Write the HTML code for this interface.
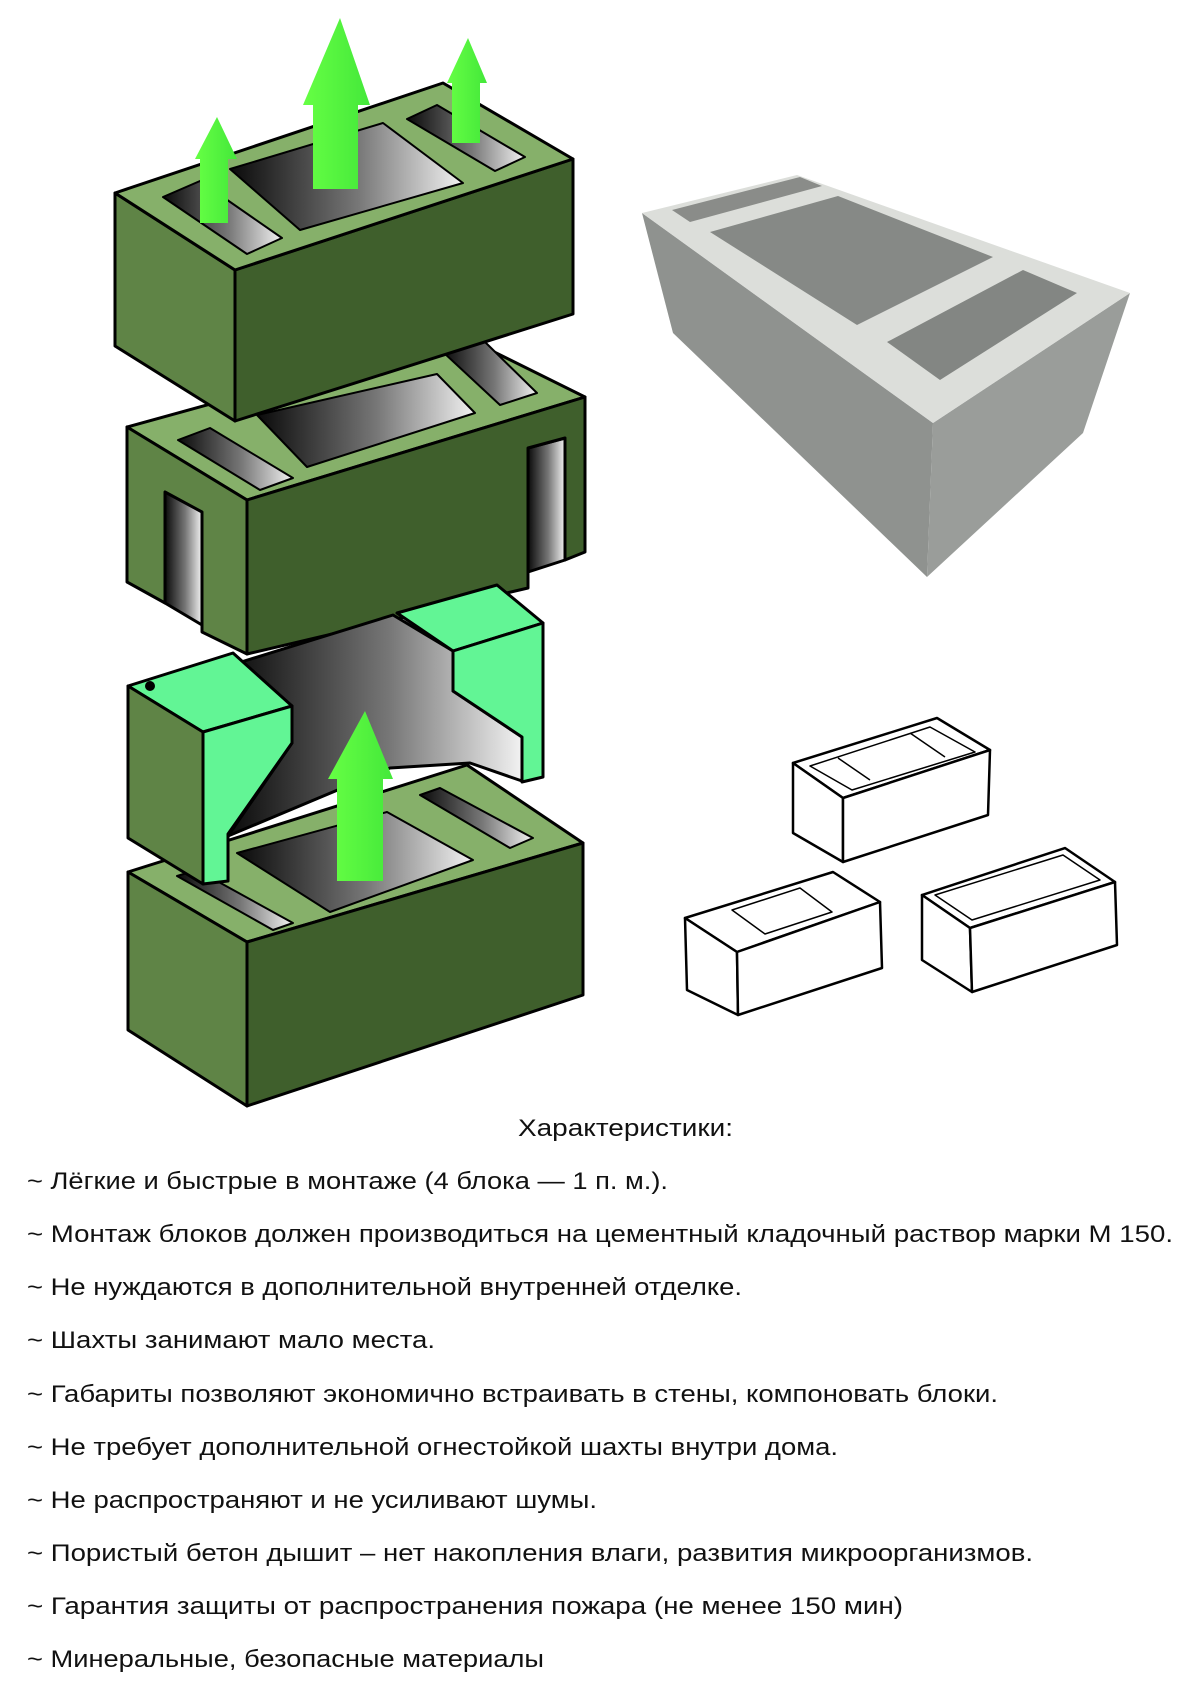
<!DOCTYPE html>
<html><head><meta charset="utf-8"><style>
html,body{margin:0;padding:0;background:#fff}
svg{display:block}
text{font-family:"Liberation Sans","Noto Sans CJK SC",sans-serif;fill:#111}
</style></head><body>
<svg width="1200" height="1697" viewBox="0 0 1200 1697" xmlns="http://www.w3.org/2000/svg">
<defs>
<linearGradient id="hole" x1="0" y1="0" x2="1" y2="0"><stop offset="0" stop-color="#0a0a0a"/><stop offset="0.55" stop-color="#777"/><stop offset="1" stop-color="#f2f2f2"/></linearGradient>
<linearGradient id="arr" x1="0" y1="0" x2="1" y2="0"><stop offset="0" stop-color="#66ff44"/><stop offset="1" stop-color="#44e83a"/></linearGradient>
</defs>
<g stroke="#000" stroke-width="3" stroke-linejoin="round">
<!-- block 2 (behind) -->
<polygon points="127,427 460,335 585,397 247,500" fill="#86b06a"/>
<polygon points="257,415 437,374 475,413 307,467" fill="url(#hole)" stroke-width="2"/>
<polygon points="178,440 210,428 293,478 260,490" fill="url(#hole)" stroke-width="2"/>
<polygon points="443,352 485,342 537,393 500,405" fill="url(#hole)" stroke-width="2"/>
<polygon points="165,489 202,510 202,625 165,603" fill="url(#hole)"/>
<polygon points="127,427 247,500 247,654 202,632 202,512 165,492 165,603 127,582" fill="#5f8446"/>
<polygon points="528,448 565,438 565,560 528,572" fill="url(#hole)"/>
<polygon points="247,500 585,397 585,552 565,560 565,438 528,448 528,588 247,654" fill="#3f5f2c"/>
<!-- top block -->
<polygon points="115,193 235,270 235,421 115,346" fill="#5f8446"/>
<polygon points="235,270 573,159 573,314 235,421" fill="#3f5f2c"/>
<polygon points="115,193 443,83 573,159 235,270" fill="#86b06a"/>
<polygon points="163,197 200,181 282,238 247,254" fill="url(#hole)" stroke-width="2"/>
<polygon points="230,169 383,123 463,183 300,230" fill="url(#hole)" stroke-width="2"/>
<polygon points="407,119 437,105 525,157 495,171" fill="url(#hole)" stroke-width="2"/>
</g>
<g fill="url(#arr)">
<polygon points="217,117 237,159 228,159 228,223 200,223 200,159 195,159"/>
<polygon points="340,18 370,105 358,105 358,189 313,189 313,105 303,105"/>
<polygon points="468,38 487,83 480,83 480,143 452,143 452,83 447,83"/>
</g>
<g stroke="#000" stroke-width="3" stroke-linejoin="round">
<!-- insert block 3 -->
<polygon points="238,663 393,615 453,651 453,691 522,737 522,781 470,763 390,768 228,836 292,743 292,706" fill="url(#hole)"/>
<polygon points="397,613 497,585 543,623 453,651" fill="#62f595"/>
<polygon points="453,651 543,623 543,777 522,782 522,737 453,691" fill="#62f595"/>
<polygon points="128,686 233,653 292,706 203,732" fill="#62f595"/>
<!-- block 4 -->
<polygon points="128,872 467,765 583,843 247,942" fill="#86b06a"/>
<polygon points="237,853 387,812 473,860 330,912" fill="url(#hole)" stroke-width="2"/>
<polygon points="177,876 197,870 293,923 273,930" fill="url(#hole)" stroke-width="2"/>
<polygon points="420,795 440,788 533,838 510,848" fill="url(#hole)" stroke-width="2"/>
<polygon points="128,872 247,942 247,1106 128,1030" fill="#5f8446"/>
<polygon points="247,942 583,843 583,995 247,1106" fill="#3f5f2c"/>
<polygon points="128,686 203,732 203,884 128,838" fill="#5f8446"/>
<polygon points="203,732 292,706 292,743 228,834 228,881 203,884" fill="#62f595"/>
</g>
<circle cx="150" cy="686" r="5" fill="#000"/>
<polygon fill="url(#arr)" points="365,711 393,779 383,779 383,881 337,881 337,779 328,779"/>
<!-- grey photo block -->
<g>
<polygon points="642,213 933,423 927,577 673,333" fill="#8f928f"/>
<polygon points="933,423 1130,293 1083,433 927,577" fill="#9a9d9a"/>
<polygon points="642,213 797,175 1130,293 933,423" fill="#dcdeda"/>
<polygon points="710,232 838,196 993,257 857,325" fill="#868986"/>
<polygon points="887,342 1023,270 1077,293 940,380" fill="#838683"/>
<polygon points="672,210 800,177 822,186 690,222" fill="#8a8c89"/>
</g>
<!-- line drawings -->
<g fill="#fff" stroke="#000" stroke-width="2.5" stroke-linejoin="round">
<polygon points="793,763 937,718 990,750 843,798"/>
<polygon points="793,763 843,798 843,862 793,833"/>
<polygon points="843,798 990,750 988,815 843,862"/>
<polygon points="810,766 930,727 975,752 852,790" stroke-width="1.5"/>
<line x1="838" y1="758" x2="870" y2="780" stroke-width="1.5"/><line x1="910" y1="733" x2="945" y2="757" stroke-width="1.5"/>
<polygon points="685,918 833,872 880,902 737,952"/>
<polygon points="685,918 737,952 738,1015 687,990"/>
<polygon points="737,952 880,902 882,968 738,1015"/>
<polygon points="732,910 800,888 832,912 765,934" stroke-width="1.5"/>
<polygon points="922,895 1065,848 1115,882 970,928"/>
<polygon points="922,895 970,928 972,992 922,960"/>
<polygon points="970,928 1115,882 1117,945 972,992"/>
<polygon points="935,895 1063,855 1100,880 972,920" stroke-width="1.5"/>
</g>
<!-- text -->
<text x="518" y="1136" font-size="24" textLength="215" lengthAdjust="spacingAndGlyphs">Характеристики:</text>
<g font-size="24">
<text x="27" y="1189" textLength="641" lengthAdjust="spacingAndGlyphs">~ Лёгкие и быстрые в монтаже (4 блока — 1 п. м.).</text>
<text x="27" y="1242" textLength="1146" lengthAdjust="spacingAndGlyphs">~ Монтаж блоков должен производиться на цементный кладочный раствор марки М 150.</text>
<text x="27" y="1295" textLength="715" lengthAdjust="spacingAndGlyphs">~ Не нуждаются в дополнительной внутренней отделке.</text>
<text x="27" y="1348" textLength="408" lengthAdjust="spacingAndGlyphs">~ Шахты занимают мало места.</text>
<text x="27" y="1402" textLength="971" lengthAdjust="spacingAndGlyphs">~ Габариты позволяют экономично встраивать в стены, компоновать блоки.</text>
<text x="27" y="1455" textLength="811" lengthAdjust="spacingAndGlyphs">~ Не требует дополнительной огнестойкой шахты внутри дома.</text>
<text x="27" y="1508" textLength="570" lengthAdjust="spacingAndGlyphs">~ Не распространяют и не усиливают шумы.</text>
<text x="27" y="1561" textLength="1006" lengthAdjust="spacingAndGlyphs">~ Пористый бетон дышит – нет накопления влаги, развития микроорганизмов.</text>
<text x="27" y="1614" textLength="876" lengthAdjust="spacingAndGlyphs">~ Гарантия защиты от распространения пожара (не менее 150 мин)</text>
<text x="27" y="1667" textLength="517" lengthAdjust="spacingAndGlyphs">~ Минеральные, безопасные материалы</text>
</g>
</svg>
</body></html>
